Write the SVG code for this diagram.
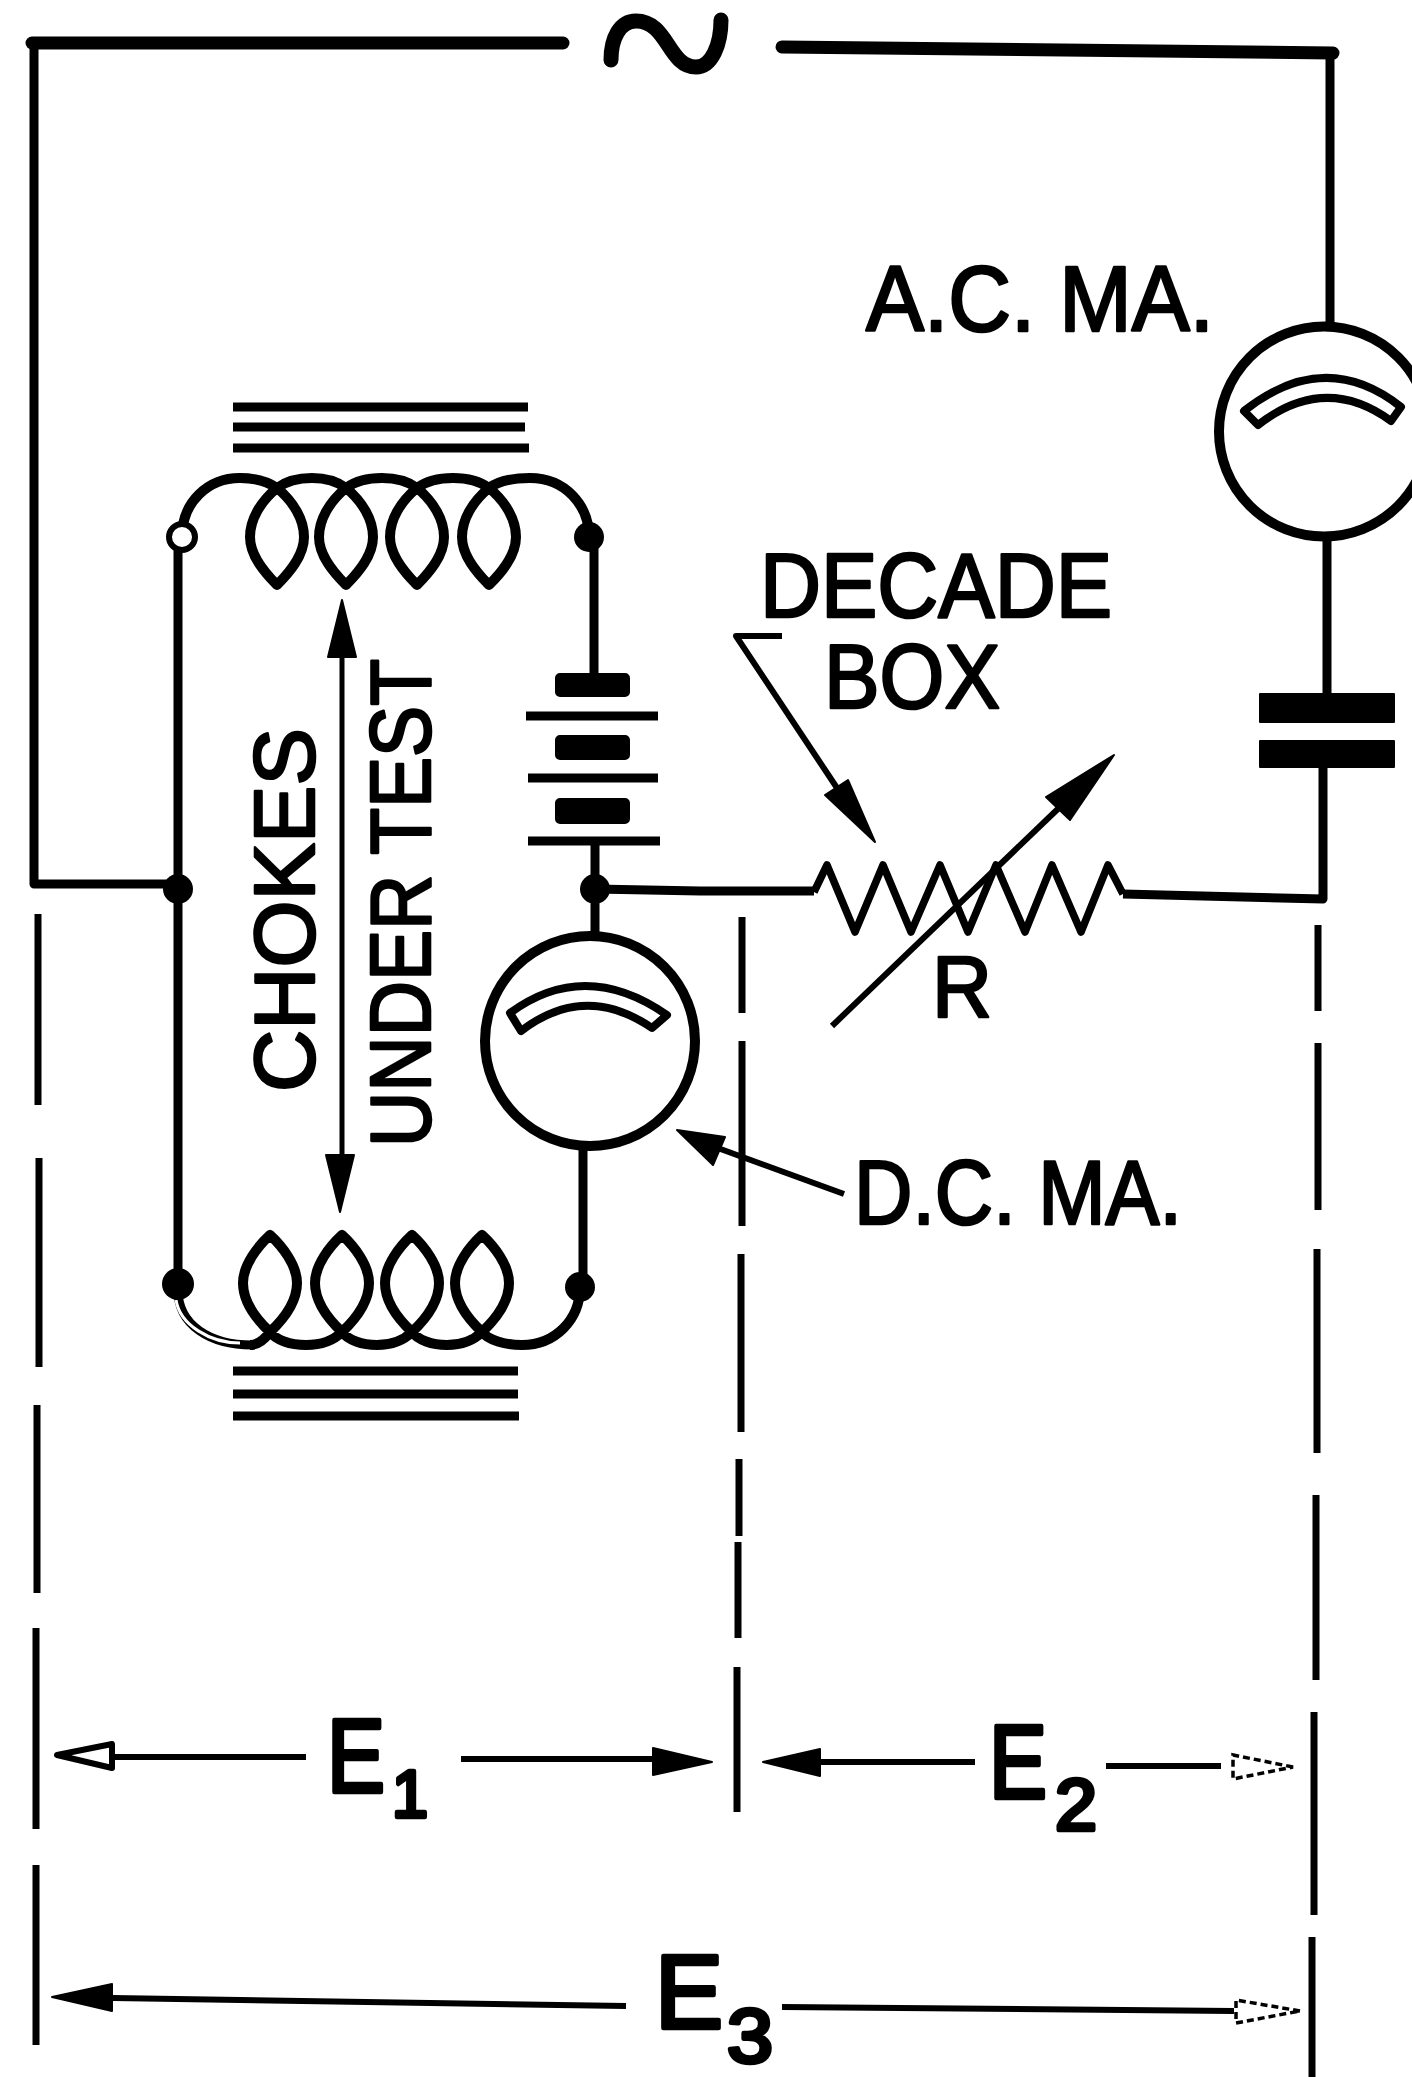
<svg xmlns="http://www.w3.org/2000/svg" width="1412" height="2077" viewBox="0 0 1412 2077">
<style>
.w{fill:none;stroke:#000;stroke-width:9;stroke-linecap:butt;stroke-linejoin:round}
.t{stroke-width:13;stroke-linecap:round}
.c{stroke-width:10}
.s{stroke-width:8}
.z{stroke-width:7.5}
.n{stroke-width:6}
.d{stroke-width:7}
.f{fill:#000;stroke:#000;stroke-width:2;stroke-linejoin:round}
.h{fill:#fff;stroke:#000;stroke-width:6;stroke-linejoin:round}
.hd{fill:#fff;stroke:#000;stroke-width:3.5;stroke-dasharray:7 4}
.l{font-family:"Liberation Sans",Arial,sans-serif;fill:#000;stroke:#000;stroke-width:2.6;stroke-linejoin:round}
.e{stroke-width:4.5}
</style>
<rect width="1412" height="2077" fill="#fff"/>
<g id="connectors">
<path class="w t" d="M32,43H563"/>
<path class="w t" d="M782,47L1333,53"/>
<path class="w" d="M34,42V884H178"/>
<path class="w" d="M1330,52V325"/>
<path class="w" d="M178,537V1284"/>
<path class="w" d="M589,537L594,540V673"/>
<path class="w" d="M595,841V935"/>
<path class="w" d="M583,1148V1287"/>
<path class="w" d="M595,889L700,891H814"/>
<path class="w" d="M1123,894L1323,899V767"/>
<path class="w" d="M1327,541V693"/>
<g id="voltage-limits">
<path class="w d" d="M38,914V1105M39,1158V1367M37,1405V1593M36,1628V1829M36,1865V2045"/>
<path class="w d" d="M742,917V1013M742,1041V1226M741,1254V1432M739,1459V1536M738,1542V1638M737,1667V1812"/>
<path class="w d" d="M1318,925V1011M1318,1043V1210M1317,1249V1453M1316,1495V1680M1314,1712V1915M1312,1937V2077"/>
</g>
<g id="voltage-arrows">
<path class="w n" d="M112,1757H306M461,1759H655M820,1762H975M1106,1766H1221M113,1998L626,2006M782,2007L1234,2011"/>
<polygon class="h" points="57,1755 112,1744 112,1768"/>
<polygon class="f" points="712,1762 653,1748 653,1775"/>
<polygon class="f" points="763,1762 820,1749 820,1776"/>
<polygon class="hd" points="1293,1767 1233,1755 1233,1779"/>
<polygon class="f" points="52,1997 112,1984 112,2011"/>
<polygon class="hd" points="1300,2011 1236,2000 1236,2023"/>
</g>
</g>
<g id="ac-source">
<path class="w" style="stroke-width:15;stroke-linecap:round" d="M611,60C611,38 620,21 636,21C668,21 668,67 696,67C712,67 721,44 721,20"/>
</g>
<g id="ac-meter">
<circle class="w c" cx="1324" cy="431.5" r="105"/>
<path class="w s" d="M1244,411Q1325,347 1401,407L1391,421Q1325,373 1258,425Z"/>
<text class="l" x="866" y="331" font-size="92" textLength="348" lengthAdjust="spacingAndGlyphs">A.C. MA.</text>
</g>
<g id="capacitor">
<rect class="f" x="1260" y="694" width="134" height="28"/>
<rect class="f" x="1260" y="741" width="134" height="26"/>
</g>
<g id="decade-box">
<path class="w z" d="M814,892L827,865L855,932L883,865L911,932L940,865L968,932L996,865L1025,932L1052,865L1081,932L1108,865L1123,894"/>
<path class="w n" d="M832,1026L1062,805"/>
<polygon class="f" points="1114,755 1046,797 1070,820"/>
<path class="w n" d="M782,636H736L845,800"/>
<polygon class="f" points="875,842 825,795 848,780"/>
<text class="l" x="760" y="617" font-size="90" textLength="352" lengthAdjust="spacingAndGlyphs">DECADE</text>
<text class="l" x="824" y="708" font-size="90" textLength="176" lengthAdjust="spacingAndGlyphs">BOX</text>
<text class="l" x="932" y="1017" font-size="88" textLength="60" lengthAdjust="spacingAndGlyphs">R</text>
</g>
<g id="dc-meter">
<circle class="w c" cx="590" cy="1041" r="105"/>
<path class="w s" d="M510,1013Q585,958 667,1015L652,1028Q585,982 521,1031Z"/>
<path class="w n" d="M844,1194L715,1147"/>
<polygon class="f" points="677,1130 725,1137 713,1165"/>
<text class="l" x="854" y="1224" font-size="90" textLength="328" lengthAdjust="spacingAndGlyphs">D.C. MA.</text>
</g>
<g id="battery">
<rect class="f" x="556" y="674" width="73" height="22" rx="4"/>
<rect class="f" x="556" y="736" width="73" height="23" rx="4"/>
<rect class="f" x="556" y="799" width="73" height="24" rx="4"/>
<path class="w" d="M526,716H658M528,778H658M528,841H660"/>
</g>
<g id="top-choke">
<path class="w" d="M233,407H528M233,427H525M233,448H529"/>
<path class="w" style="stroke-width:10" d="M182,537C182,502 208,478 240,478C258,478 268,482 277,488C294,502 304,520 304,537C304,556 289,573 277,585C265,573 250,556 250,537C250,520 260,502 277,488C285,482 296,478 312,478C328,478 338,482 346,488C363,502 373,520 373,537C373,556 358,573 346,585C334,573 319,556 319,537C319,520 329,502 346,488C354,482 366,478 382,478C398,478 409,482 417,488C434,502 444,520 444,537C444,556 429,573 417,585C405,573 390,556 390,537C390,520 400,502 417,488C425,482 437,478 453,478C469,478 481,482 489,488C506,502 516,520 516,537C516,556 501,573 489,585C477,573 462,556 462,537C462,520 472,502 489,488C497,482 510,478 530,478C565,478 589,505 589,537"/>
<circle cx="182" cy="537" r="13" fill="#fff" stroke="#000" stroke-width="6"/>
<circle cx="589" cy="537" r="15"/>
<circle cx="178" cy="889" r="15"/>
<circle cx="595" cy="889" r="15"/>
</g>
<g id="bottom-choke">
<path class="w" d="M233,1371H518M233,1394H518M233,1416H519"/>
<path class="w" style="stroke-width:10" d="M250,1345C258,1345 264,1340 270,1332C287,1316 297,1300 297,1283C297,1265 282,1246 270,1235C258,1246 243,1265 243,1283C243,1300 253,1316 270,1332C276,1340 290,1345 306,1345C322,1345 334,1340 342,1332C359,1316 369,1300 369,1283C369,1265 354,1246 342,1235C330,1246 315,1265 315,1283C315,1300 325,1316 342,1332C348,1340 362,1345 377,1345C392,1345 404,1340 412,1332C429,1316 439,1300 439,1283C439,1265 424,1246 412,1235C400,1246 385,1265 385,1283C385,1300 395,1316 412,1332C418,1340 432,1345 447,1345C462,1345 474,1340 482,1332C499,1316 509,1300 509,1283C509,1265 494,1246 482,1235C470,1246 455,1265 455,1283C455,1300 465,1316 482,1332C488,1340 505,1345 522,1345C555,1345 580,1320 580,1287"/>
<path fill="none" stroke="#000" stroke-width="9" d="M178,1290C178,1325 210,1345 252,1345"/>
<path fill="none" stroke="#fff" stroke-width="3" d="M176,1300C180,1325 210,1343 240,1343"/>
<circle cx="178" cy="1284" r="16"/>
<circle cx="580" cy="1287" r="15"/>
</g>
<g id="choke-labels">
<path class="w" style="stroke-width:5" d="M342,650V1160"/>
<polygon class="f" points="342,600 328,657 356,657"/>
<polygon class="f" points="340,1212 326,1155 354,1155"/>
<text class="l" transform="translate(314,1092) rotate(-90)" font-size="86" textLength="364" lengthAdjust="spacingAndGlyphs">CHOKES</text>
<text class="l" transform="translate(430,1147) rotate(-90)" font-size="86" textLength="488" lengthAdjust="spacingAndGlyphs">UNDER TEST</text>
</g>
<g id="voltage-labels">
<text class="l e" x="327" y="1792" font-size="103" textLength="58" lengthAdjust="spacingAndGlyphs">E</text>
<text class="l e" x="392" y="1817" font-size="66" textLength="36" lengthAdjust="spacingAndGlyphs">1</text>
<text class="l e" x="989" y="1798" font-size="103" textLength="58" lengthAdjust="spacingAndGlyphs">E</text>
<text class="l e" x="1055" y="1830" font-size="72" textLength="42" lengthAdjust="spacingAndGlyphs">2</text>
<text class="l e" x="655" y="2028" font-size="103" textLength="68" lengthAdjust="spacingAndGlyphs">E</text>
<text class="l e" x="727" y="2062" font-size="76" textLength="46" lengthAdjust="spacingAndGlyphs">3</text>
</g>
</svg>
